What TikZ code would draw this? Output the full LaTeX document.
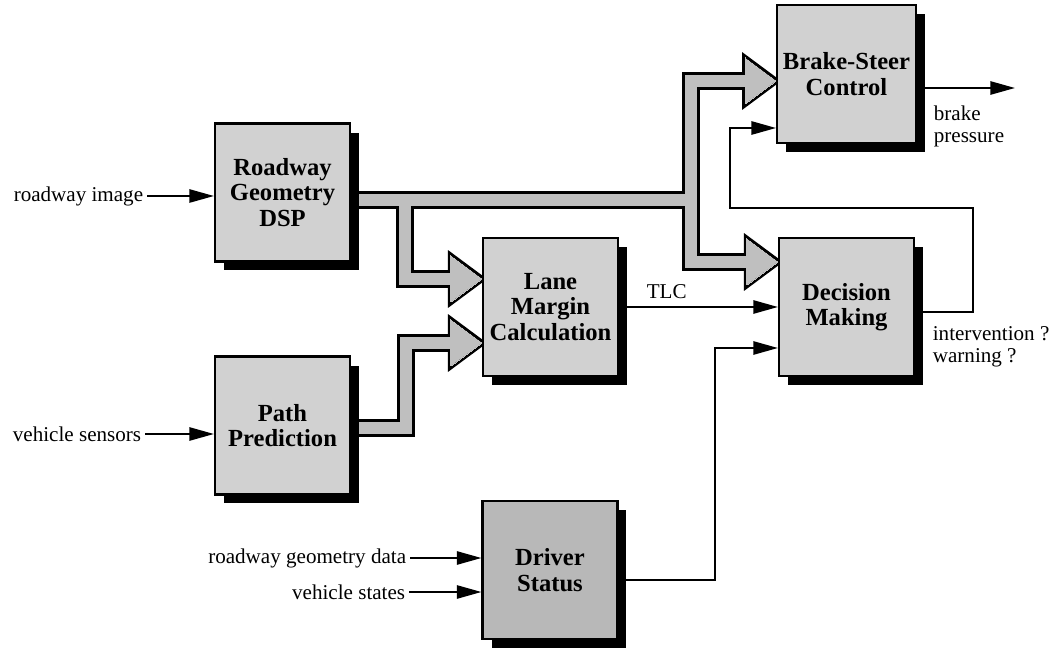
\documentclass[tikz,border=0pt]{standalone}
\usepackage{fontspec}
\setmainfont{Liberation Serif}
\usetikzlibrary{arrows.meta,shadows,backgrounds}

\newcommand{\boxfont}{\fontsize{14}{14.5}\selectfont\bfseries}
\newcommand{\lblfont}{\fontsize{12}{12.5}\selectfont}

\begin{document}
\begin{tikzpicture}[
    x=0.02cm, y=-0.02cm,
    blk/.style={draw, line width=1.2pt, fill=black!18, minimum width=2.7cm, minimum height=2.76cm, align=center, font=\boxfont,
        drop shadow={shadow xshift=0.18cm, shadow yshift=-0.18cm, fill=black, opacity=1}},
    sig/.style={-{Triangle[length=14pt,width=7.5pt]}, line width=1.2pt},
    lbl/.style={font=\lblfont, inner sep=2pt}
]
\useasboundingbox (0,0) rectangle (1059,655);

\node[blk] (dsp) at (282.5,192.5) {Roadway\\Geometry\\DSP};
\node[blk] (pred) at (282.5,425.5) {Path\\Prediction};
\node[blk] (lane) at (550.5,307) {Lane\\Margin\\Calculation};
\node[blk] (brake) at (846.5,74) {Brake-Steer\\Control};
\node[blk] (dec) at (846.5,307) {Decision\\Making};
\node[blk, fill=black!28] (drv) at (550,570) {Driver\\Status};

\node[lbl, anchor=east] (img) at (147,196) {roadway image};
\node[lbl, anchor=east] (sens) at (145,434) {vehicle sensors};
\node[lbl, anchor=east] (geo) at (410,558) {roadway geometry data};
\node[lbl, anchor=east] (vst) at (409,592) {vehicle states};
\node[lbl, anchor=north west, align=left] (bpl) at (930,102) {brake\\pressure};
\node[lbl, anchor=north west, align=left] (iwl) at (929,323) {intervention ?\\warning ?};

\coordinate (bpout) at (1015,88);
\coordinate (fbr) at (973,208);
\coordinate (fbl) at (730,208);
\coordinate (drvbend) at (715,580);

\draw[sig] (img.east) -- (img.east -| dsp.west);
\draw[sig] (sens.east) -- (sens.east -| pred.west);
\draw[sig] (geo.east) -- (geo.east -| drv.west);
\draw[sig] (vst.east) -- (vst.east -| drv.west);
\draw[sig] (brake.east |- bpout) -- (bpout);
\draw[sig] (lane.east) -- node[lbl, pos=0.3, above, inner sep=4pt] (tlc) {TLC} (dec.west);
\draw[sig] (dec.east |- 0,312) -| (fbr) -- (fbl) |- (brake.west |- 0,128);
\draw[sig] (drv.east |- drvbend) -- (drvbend) |- (dec.west |- 0,348);

\coordinate (splitA) at (691,200);
\coordinate (splitB) at (405,200);
\coordinate (bendC) at (406,428);
\coordinate (tipB) at (brake.west |- 0,81);
\coordinate (tipD) at (dec.west |- 0,262);
\coordinate (tipL) at (lane.west |- 0,279);
\coordinate (tipP) at (lane.west |- 0,343);

\begin{scope}[on background layer]
\foreach \c/\w/\h in {black/0.36cm/0.12cm, black!25/0.23cm/0pt} {
    \draw[line width=\w, \c] (dsp.east |- splitA) -- (splitA);
    \draw[line width=\w, \c, shorten >=0.5cm] (splitA) |- (tipB);
    \draw[line width=\w, \c, shorten >=0.5cm] (splitA) |- (tipD);
    \draw[line width=\w, \c, shorten >=0.5cm] (splitB) |- (tipL);
    \draw[line width=\w, \c, shorten >=0.5cm] (pred.east |- bendC) -- (bendC) |- (tipP);
    \foreach \t in {tipB,tipD,tipL,tipP}
        \filldraw[\c, line width=\h] (\t) -- ++(-31,-23) -- ++(0,46) -- cycle;
}
\end{scope}
\end{tikzpicture}
\end{document}
